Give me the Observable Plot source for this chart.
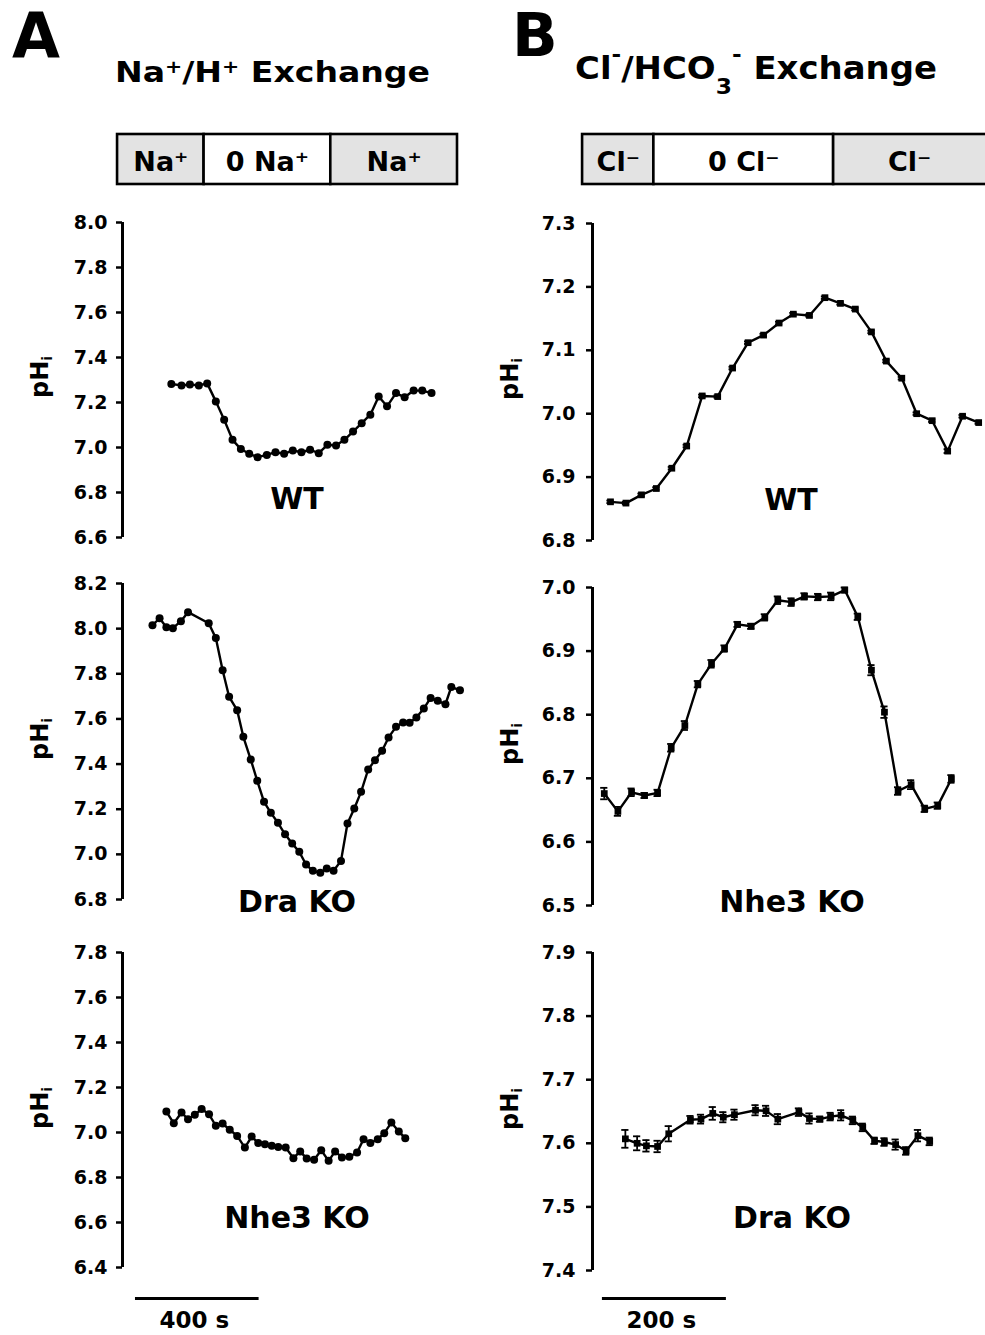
<!DOCTYPE html>
<html><head><meta charset="utf-8">
<script src="https://cdn.jsdelivr.net/npm/d3@7"></script>
<script src="https://cdn.jsdelivr.net/npm/@observablehq/plot@0.6"></script>
<style>
body{margin:0;background:#fff;}
#fig{position:relative;width:985px;height:1335px;overflow:hidden;background:#fff;font-family:"DejaVu Sans",sans-serif;font-weight:bold;}
</style></head><body><div id="fig"></div>
<script>
// ---------- Panel A: Na+/H+ exchange (time in s, pHi) ----------
const aWT_t = [174,207,234,263,290,318,345,372,399,426,453,483,511,539,567,595,623,651,679,707,734,762,790,818,845,872,901,929,958,986,1016];
const aWT_v = [7.282,7.276,7.280,7.276,7.285,7.205,7.123,7.034,6.993,6.972,6.957,6.967,6.979,6.972,6.987,6.979,6.990,6.975,7.012,7.009,7.034,7.071,7.108,7.146,7.227,7.183,7.242,7.223,7.253,7.253,7.242];

const aDra_t = [113,136,158,179,205,228,295,318,340,361,387,407,431,452,474,496,519,542,565,588,610,632,656,677,699,723,744,766,788,811,833,856,877,901,924,945,967,991,1013,1036,1061,1080,1108];
const aDra_v = [8.015,8.046,8.006,8.002,8.033,8.073,8.024,7.958,7.816,7.698,7.639,7.521,7.420,7.326,7.233,7.184,7.140,7.089,7.048,7.011,6.955,6.927,6.918,6.937,6.927,6.971,7.137,7.203,7.277,7.376,7.417,7.459,7.518,7.565,7.584,7.583,7.606,7.646,7.693,7.680,7.665,7.742,7.727];

const aNhe_t = [158,182,207,228,250,272,296,318,340,363,387,412,434,455,477,499,520,544,569,591,612,636,659,683,704,726,750,775,796,818,842,863,886,910,931];
const aNhe_v = [7.093,7.041,7.089,7.059,7.079,7.104,7.081,7.030,7.040,7.012,6.985,6.933,6.982,6.953,6.948,6.941,6.936,6.933,6.886,6.916,6.884,6.879,6.921,6.874,6.916,6.889,6.892,6.911,6.970,6.953,6.970,6.997,7.044,7.004,6.975];

// ---------- Panel B: Cl-/HCO3- exchange ----------
const bWT_t = [45,70,95,119,144,168,193,218,242,267,292,317,340,366,391,416,440,466,490,515,539,564,589,613,639];
const bWT_v = [6.861,6.859,6.872,6.882,6.914,6.949,7.028,7.027,7.072,7.112,7.124,7.143,7.157,7.155,7.183,7.174,7.165,7.129,7.083,7.056,7.000,6.989,6.941,6.996,6.986];
const bWT_e = [0.002,0.002,0.002,0.002,0.002,0.002,0.002,0.002,0.002,0.002,0.002,0.002,0.002,0.002,0.002,0.002,0.002,0.002,0.002,0.002,0.002,0.002,0.003,0.002,0.002];

const bNhe_t = [35,57,79,100,121,143,165,186,208,229,250,272,294,315,337,358,380,401,423,444,466,487,509,530,552,573,595];
const bNhe_v = [6.676,6.648,6.678,6.673,6.677,6.748,6.783,6.848,6.880,6.904,6.942,6.939,6.953,6.980,6.977,6.986,6.985,6.986,6.996,6.954,6.870,6.804,6.680,6.690,6.652,6.657,6.699];
const bNhe_e = [0.009,0.007,0.006,0.004,0.005,0.006,0.007,0.005,0.006,0.005,0.004,0.004,0.005,0.006,0.006,0.005,0.005,0.006,0.004,0.005,0.008,0.009,0.006,0.007,0.005,0.005,0.006];

const bDra_t = [69,88,103,121,139,174,191,210,227,245,279,296,315,349,366,383,400,417,436,452,471,487,505,522,541,560];
const bDra_v = [7.607,7.600,7.596,7.595,7.615,7.637,7.638,7.647,7.641,7.645,7.652,7.651,7.638,7.649,7.639,7.638,7.642,7.644,7.636,7.625,7.604,7.602,7.598,7.588,7.612,7.603];
const bDra_e = [0.014,0.011,0.009,0.009,0.012,0.006,0.007,0.010,0.008,0.008,0.008,0.008,0.008,0.006,0.008,0.004,0.006,0.008,0.006,0.006,0.005,0.006,0.008,0.006,0.009,0.006];

// tick values
const ticksAWT = [6.6,6.8,7.0,7.2,7.4,7.6,7.8,8.0];
const ticksADra = [6.8,7.0,7.2,7.4,7.6,7.8,8.0,8.2];
const ticksANhe = [6.4,6.6,6.8,7.0,7.2,7.4,7.6,7.8];
const ticksBWT = [6.8,6.9,7.0,7.1,7.2,7.3];
const ticksBNhe = [6.5,6.6,6.7,6.8,6.9,7.0];
const ticksBDra = [7.4,7.5,7.6,7.7,7.8,7.9];

// solution-change bars (s)
const boxA_start = [0, 280, 690];
const boxA_end = [280, 690, 1100];
const boxA_label = ["Na⁺", "0 Na⁺", "Na⁺"];
const boxB_start = [0, 115, 405];
const boxB_end = [115, 405, 700];
const boxB_label = ["Cl⁻", "0 Cl⁻", "Cl⁻"];

// scale bars
const scaleA = {start: 58, length: 400, label: "400 s"};
const scaleB = {start: 32, length: 200, label: "200 s"};

// ---------- layout ----------
const fig = document.getElementById("fig");
const colA = {left: 0, width: 480, marginLeft: 122, marginRight: 23, domain: [16, 1100], tickPadding: 9};
const colB = {left: 480, width: 505, marginLeft: 112, marginRight: 0, domain: [16, 650], tickPadding: 11};
const baseStyle = {background: "transparent", fontFamily: "DejaVu Sans", fontSize: "19px", fontWeight: "bold", overflow: "visible", color: "black"};

function place(el, left, top) {
  el.style.position = "absolute";
  el.style.left = left + "px";
  el.style.top = top + "px";
  el.style.maxWidth = "none";
  fig.appendChild(el);
}
function pxPerSec(col) {
  return (col.width - col.marginLeft - col.marginRight) / (col.domain[1] - col.domain[0]);
}

function panel(col, spec) {
  const M = 40;
  const top = spec.yTop - M;
  const height = spec.yBottom - spec.yTop + 2 * M;
  const data = spec.t.map((t, i) => ({t, v: spec.v[i], e: spec.e ? spec.e[i] : 0}));
  const marks = [
    Plot.ruleX([{x: col.domain[0], y1: spec.yDomain[0], y2: spec.yDomain[1]}], {x: "x", y1: "y1", y2: "y2", stroke: "black", strokeWidth: 3}),
    Plot.axisY({ticks: spec.ticks, tickFormat: d3.format(".1f"), tickSize: 6, tickPadding: col.tickPadding, strokeWidth: 2.5, fontSize: 19, fontWeight: "bold", label: null}),
    Plot.line(data, {x: "t", y: "v", stroke: "black", strokeWidth: 2.4})
  ];
  if (spec.e) {
    const cap = 3.6 / pxPerSec(col);
    marks.push(Plot.ruleX(data, {x: "t", y1: d => d.v - d.e, y2: d => d.v + d.e, stroke: "black", strokeWidth: 1.8}));
    marks.push(Plot.ruleY(data, {y: d => d.v + d.e, x1: d => d.t - cap, x2: d => d.t + cap, stroke: "black", strokeWidth: 1.8}));
    marks.push(Plot.ruleY(data, {y: d => d.v - d.e, x1: d => d.t - cap, x2: d => d.t + cap, stroke: "black", strokeWidth: 1.8}));
  }
  marks.push(Plot.dot(data, {x: "t", y: "v", r: spec.square ? 3.8 : 4, symbol: spec.square ? "square" : "circle", fill: "black", stroke: "none"}));
  marks.push(Plot.text([spec.label], {text: d => d, frameAnchor: "bottom", dx: spec.labelDx, dy: spec.labelDy, fontSize: 30, fontWeight: "bold", lineAnchor: "middle", fill: "black"}));
  const svg = Plot.plot({
    width: col.width, height,
    marginLeft: col.marginLeft, marginRight: col.marginRight, marginTop: M, marginBottom: M,
    x: {domain: col.domain, axis: null},
    y: {domain: spec.yDomain},
    style: baseStyle,
    marks
  });
  place(svg, col.left, top);
}

function box(col, starts, ends, labels, yTop, yBottom) {
  const data = starts.map((s, i) => ({s, e: ends[i], label: labels[i]}));
  const top = yTop - 20;
  const svg = Plot.plot({
    width: col.width, height: yBottom - yTop + 40,
    marginLeft: col.marginLeft, marginRight: col.marginRight, marginTop: 20, marginBottom: 20,
    x: {domain: col.domain, axis: null},
    y: {domain: [0, 1], axis: null},
    style: baseStyle,
    marks: [
      Plot.rect(data, {x1: "s", x2: "e", y1: 0, y2: 1, fill: d => d.label.startsWith("0") ? "white" : "#e3e3e3", stroke: "black", strokeWidth: 2.6}),
      Plot.text(data, {x: d => (d.s + Math.min(d.e, col.domain[1])) / 2, y: 0.5, text: "label", fontSize: 27, fontWeight: "bold", dy: 3, fill: "black"})
    ]
  });
  place(svg, col.left, top);
}

function scaleBar(col, sb, yBar) {
  const top = yBar - 18;
  const svg = Plot.plot({
    width: col.width, height: 60,
    marginLeft: col.marginLeft, marginRight: col.marginRight, marginTop: 0, marginBottom: 0,
    x: {domain: col.domain, axis: null},
    y: {domain: [0, 1], range: [18, 40], axis: null},
    style: baseStyle,
    marks: [
      Plot.ruleY([sb], {y: 0, x1: d => d.start, x2: d => d.start + d.length, stroke: "black", strokeWidth: 3}),
      Plot.text([sb], {x: d => d.start + d.length / 2, y: 1, text: d => d.label, fontSize: 23, fontWeight: "bold", dx: -3, fill: "black"})
    ]
  });
  place(svg, col.left, top);
}

// boxes
box(colA, boxA_start, boxA_end, boxA_label, 134, 184);
box(colB, boxB_start, boxB_end, boxB_label, 134, 184);

// panels
panel(colA, {t: aWT_t, v: aWT_v, yDomain: [6.6, 8.0], ticks: ticksAWT, yTop: 222, yBottom: 537, label: "WT", labelDx: 7, labelDy: -38});
panel(colA, {t: aDra_t, v: aDra_v, yDomain: [6.8, 8.2], ticks: ticksADra, yTop: 583, yBottom: 899, label: "Dra KO", labelDx: 7, labelDy: 3});
panel(colA, {t: aNhe_t, v: aNhe_v, yDomain: [6.4, 7.8], ticks: ticksANhe, yTop: 952, yBottom: 1267, label: "Nhe3 KO", labelDx: 7, labelDy: -49});
panel(colB, {t: bWT_t, v: bWT_v, e: bWT_e, square: true, yDomain: [6.8, 7.3], ticks: ticksBWT, yTop: 223, yBottom: 540, label: "WT", labelDx: 2, labelDy: -40});
panel(colB, {t: bNhe_t, v: bNhe_v, e: bNhe_e, square: true, yDomain: [6.5, 7.0], ticks: ticksBNhe, yTop: 587, yBottom: 905, label: "Nhe3 KO", labelDx: 3, labelDy: -3});
panel(colB, {t: bDra_t, v: bDra_v, e: bDra_e, square: true, yDomain: [7.4, 7.9], ticks: ticksBDra, yTop: 952, yBottom: 1270, label: "Dra KO", labelDx: 3, labelDy: -52});

// scale bars
scaleBar(colA, scaleA, 1298);
scaleBar(colB, scaleB, 1298);

// ---------- static text overlay ----------
const pHiCentersA = [377, 739, 1108];
const pHiCentersB = [379, 744, 1109];
function pHi(x, y) {
  return `<text transform="translate(${x},${y}) rotate(-90)" text-anchor="middle" font-size="24">pH<tspan font-size="14" dy="4">i</tspan></text>`;
}
const overlay = `<svg xmlns="http://www.w3.org/2000/svg" width="985" height="1335" style="position:absolute;left:0;top:0;font-family:'DejaVu Sans';font-weight:bold;fill:black;pointer-events:none">
<text x="12" y="57" font-size="62">A</text>
<text x="512" y="56" font-size="60">B</text>
<text x="115" y="82" font-size="29" textLength="315" lengthAdjust="spacingAndGlyphs">Na<tspan font-size="18" dy="-9">+</tspan><tspan dy="9">/H</tspan><tspan font-size="18" dy="-9">+</tspan><tspan dy="9"> Exchange</tspan></text>
<text x="575" y="79" font-size="32" textLength="362" lengthAdjust="spacingAndGlyphs">Cl<tspan font-size="22" dy="-17">-</tspan><tspan dy="17">/HCO</tspan><tspan font-size="22" dy="15">3</tspan><tspan font-size="22" dy="-32">-</tspan><tspan dy="17"> Exchange</tspan></text>
${pHiCentersA.map(y => pHi(48, y)).join("")}
${pHiCentersB.map(y => pHi(518, y)).join("")}
</svg>`;
fig.insertAdjacentHTML("beforeend", overlay);
</script></body></html>
